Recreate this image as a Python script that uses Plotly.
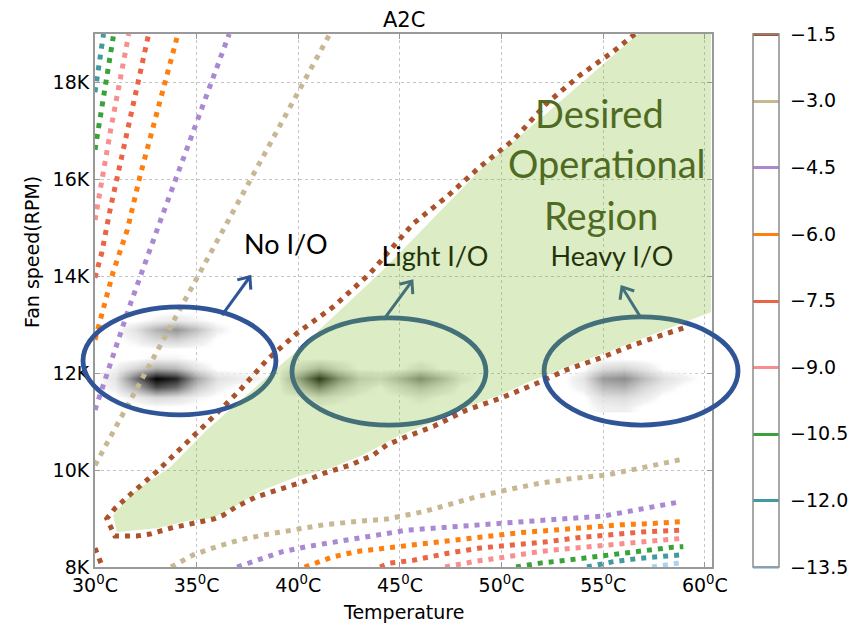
import math
import plotly.graph_objects as go

# ---------------- data ----------------
contour_levels = [-13.5, -12.0, -10.5, -9.0, -7.5, -6.0, -4.5, -3.0, -1.5]
contour_colors = ['#a9d3f0', '#409aa0', '#39a339', '#f98e8e', '#ea6445',
                  '#ff7f0e', '#aa88d2', '#c8b793', '#a9522b']

# level -1.5
l15_main_temp = [56.56, 55.5, 53.86, 52.22, 50.58, 48.94, 47.3, 45.66, 44.51, 43.53, 41.72, 39.92,
                 38.45, 37.13, 35.82, 35.0, 34.18, 33.04, 31.88, 30.98, 30.58, 30.74, 30.98, 32.05,
                 32.71, 33.69, 34.67, 35.82, 36.31, 36.97, 37.95, 38.94, 40.25, 41.23, 42.54, 43.69,
                 44.35, 45.33, 46.64, 48.28, 49.92, 51.56, 53.2, 54.84, 56.48, 58.12, 58.94]
l15_main_rpm = [19000, 18640, 18150, 17570, 16810, 16260, 15640, 15090, 14540, 14060, 13370, 12820,
                12270, 11650, 11100, 10760, 10450, 9970, 9550, 9210, 9000, 8830, 8640, 8640,
                8680, 8800, 8890, 8990, 9070, 9250, 9450, 9590, 9760, 9930, 10100, 10310,
                10520, 10690, 10900, 11240, 11480, 11760, 12070, 12310, 12580, 12820, 12930]
l15_small_temp = [30.0, 30.33, 30.37]
l15_small_rpm = [8390, 8040, 8000]
# level -3.0
l30_up_temp = [30.0, 35.0, 41.55]
l30_up_rpm = [10100, 13930, 19000]
l30_low_temp = [33.74, 34.84, 35.99, 37.13, 38.28, 39.59, 41.23, 42.87, 44.35, 46.15, 47.3, 48.78,
                50.25, 51.89, 53.53, 55.17, 56.81, 58.12, 58.86]
l30_low_rpm = [8000, 8250, 8420, 8560, 8660, 8760, 8870, 8940, 8990, 9140, 9280, 9450,
               9590, 9730, 9830, 9900, 10040, 10140, 10220]
# level -4.5
l45_up_temp = [30.0, 31.69, 33.16, 35.03, 36.6]
l45_up_rpm = [11240, 13370, 15080, 17230, 19000]
l45_low_temp = [36.99, 38.28, 39.26, 40.41, 41.56, 42.87, 44.18, 45.33, 46.97, 48.61, 50.25, 51.89,
                53.53, 55.0, 56.15, 57.3, 58.86]
l45_low_rpm = [8000, 8180, 8320, 8420, 8500, 8590, 8660, 8760, 8810, 8870, 8910, 8960,
               9000, 9050, 9140, 9230, 9350]
# level -6.0
l60_up_temp = [30.0, 30.41, 30.9, 31.59, 32.21, 33.2, 34.08]
l60_up_rpm = [12690, 13370, 14100, 14960, 16060, 17620, 19000]
l60_low_temp = [40.31, 41.72, 42.87, 44.35, 45.99, 47.63, 49.27, 50.91, 52.54, 54.19, 55.83, 57.46, 58.86]
l60_low_rpm = [8000, 8210, 8320, 8390, 8490, 8560, 8640, 8710, 8760, 8820, 8870, 8900, 8935]
# level -7.5
l75_up_temp = [30.0, 30.33, 30.74, 32.64]
l75_up_rpm = [13970, 14480, 15370, 19000]
l75_low_temp = [44.02, 44.51, 45.66, 47.3, 48.94, 50.58, 52.22, 53.86, 55.5, 57.14, 58.78]
l75_low_rpm = [8000, 8080, 8140, 8280, 8390, 8450, 8520, 8610, 8680, 8730, 8760]
# level -9.0
l90_up_temp = [30.0, 30.77, 31.66]
l90_up_rpm = [15160, 17020, 19000]
l90_low_temp = [47.22, 48.61, 50.25, 51.89, 53.53, 55.17, 57.14, 58.86]
l90_low_rpm = [8000, 8110, 8210, 8320, 8390, 8450, 8520, 8590]
# level -10.5
l105_up_temp = [30.0, 30.92]
l105_up_rpm = [16610, 19000]
l105_low_temp = [50.71, 51.89, 53.2, 54.84, 56.48, 58.45, 58.94]
l105_low_rpm = [8000, 8080, 8140, 8230, 8320, 8410, 8420]
# level -12.0
l120_up_temp = [30.0, 30.42]
l120_up_rpm = [17800, 19000]
l120_low_temp = [54.2, 55.5, 56.81, 58.78]
l120_low_rpm = [8000, 8110, 8180, 8250]
# level -13.5
l135_low_temp = [57.4, 58.86]
l135_low_rpm = [8000, 8090]

# density (gray) map: temperature grid, rpm grid, non-zero cells
heat_temps = [30, 31, 32, 33, 34, 35, 36, 37, 38, 39, 40, 41, 42, 43, 44, 45,
              46, 47, 48, 49, 50, 51, 52, 53, 54, 55, 56, 57, 58, 59, 60]
heat_rpm = [11300, 11500, 11700, 11900, 12100, 12300, 12500, 12700, 12900, 13100, 13300]
heat_cells = {
    11300: {55: 0.05, 56: 0.06},
    11500: {32: 0.06, 33: 0.15, 34: 0.12, 35: 0.04, 41: 0.12, 42: 0.05, 46: 0.06,
            55: 0.12, 56: 0.14, 57: 0.07},
    11700: {31: 0.06, 32: 0.35, 33: 0.72, 34: 0.6, 35: 0.22, 36: 0.06, 40: 0.2, 41: 0.55,
            42: 0.25, 43: 0.08, 45: 0.12, 46: 0.25, 47: 0.12, 54: 0.06, 55: 0.28, 56: 0.32,
            57: 0.16, 58: 0.06},
    11900: {31: 0.1, 32: 0.6, 33: 1.0, 34: 0.88, 35: 0.38, 36: 0.12, 37: 0.07, 38: 0.04,
            40: 0.4, 41: 0.95, 42: 0.5, 43: 0.18, 44: 0.12, 45: 0.3, 46: 0.52, 47: 0.3,
            48: 0.06, 54: 0.1, 55: 0.42, 56: 0.48, 57: 0.28, 58: 0.12, 59: 0.05},
    12100: {31: 0.04, 32: 0.18, 33: 0.35, 34: 0.3, 35: 0.1, 40: 0.1, 41: 0.3, 42: 0.12,
            46: 0.1, 55: 0.14, 56: 0.18, 57: 0.1},
    12300: {33: 0.04, 34: 0.04},
    12700: {32: 0.05, 33: 0.16, 34: 0.2, 35: 0.1},
    12900: {32: 0.12, 33: 0.32, 34: 0.45, 35: 0.26, 36: 0.06},
    13100: {33: 0.05, 34: 0.08, 35: 0.04},
}

# desired operational region polygon
region_temp = [56.71, 60.3, 60.3, 58.92, 56.46, 53.22, 51.25, 49.92, 48.3, 46.63, 45.0, 44.36,
               43.18, 41.56, 39.94, 38.26, 36.99, 35.8, 34.53, 33.05, 31.08, 30.89, 31.87,
               33.69, 35.51, 40.08, 44.17, 48.94, 52.23]
region_rpm = [19000, 19000, 13260, 13040, 12640, 12130, 11800, 11550, 11300, 10990, 10720, 10580,
              10310, 10040, 9860, 9590, 9280, 9010, 8950, 8800, 8720, 9070, 9530,
              10060, 10830, 12520, 14130, 16190, 17370]

# workload groups: ellipse extents, arrow start/tip, label position
group_names = ['No I/O', 'Light I/O', 'Heavy I/O']
ell_temp0 = [29.41, 39.69, 52.09]
ell_temp1 = [38.9, 49.23, 61.63]
ell_rpm0 = [11140, 10930, 10930]
ell_rpm1 = [13370, 13140, 13160]
arrow_temp0 = [36.25, 44.26, 56.86]
arrow_rpm0 = [13200, 13140, 13140]
arrow_temp1 = [37.62, 45.59, 55.92]
arrow_rpm1 = [13990, 13900, 13780]
label_temp = [39.39, 46.72, 55.43]
label_rpm = [14600, 14360, 14360]

x_ticks = [30, 35, 40, 45, 50, 55, 60]
x_ticktext = ['%d<sup>0</sup>C' % t for t in x_ticks]
y_ticks = [8000, 10000, 12000, 14000, 16000, 18000]
y_ticktext = ['8K', '10K', '12K', '14K', '16K', '18K']

# ---------------- figure ----------------
X0, X1 = 30, 60.35
Y0, Y1 = 8000, 19000
W, H = 849, 625
ML, MR, MT, MB = 95, 137, 34, 58
PW, PH = W - ML - MR, H - MT - MB

def xp(t):
    return (t - X0) / (X1 - X0)

def yp(r):
    return (r - Y0) / (Y1 - Y0)

color_of = dict(zip(contour_levels, contour_colors))
lines = [
    (-1.5, l15_main_temp, l15_main_rpm), (-1.5, l15_small_temp, l15_small_rpm),
    (-3.0, l30_up_temp, l30_up_rpm), (-3.0, l30_low_temp, l30_low_rpm),
    (-4.5, l45_up_temp, l45_up_rpm), (-4.5, l45_low_temp, l45_low_rpm),
    (-6.0, l60_up_temp, l60_up_rpm), (-6.0, l60_low_temp, l60_low_rpm),
    (-7.5, l75_up_temp, l75_up_rpm), (-7.5, l75_low_temp, l75_low_rpm),
    (-9.0, l90_up_temp, l90_up_rpm), (-9.0, l90_low_temp, l90_low_rpm),
    (-10.5, l105_up_temp, l105_up_rpm), (-10.5, l105_low_temp, l105_low_rpm),
    (-12.0, l120_up_temp, l120_up_rpm), (-12.0, l120_low_temp, l120_low_rpm),
    (-13.5, l135_low_temp, l135_low_rpm),
]

fig = go.Figure()
for lvl, tx, ry in lines:
    fig.add_trace(go.Scatter(x=tx, y=ry, mode='lines', showlegend=False, hoverinfo='skip',
                             line=dict(color=color_of[lvl], width=5, dash='5px,6px')))

z = [[heat_cells.get(r, {}).get(t, 0.0) for t in heat_temps] for r in heat_rpm]
fig.add_trace(go.Heatmap(x=heat_temps, y=heat_rpm, z=z, zmin=0, zmax=1, zsmooth='best',
                         showscale=False, hoverinfo='skip',
                         colorscale=[[0, 'rgba(255,255,255,0)'], [0.04, 'rgba(240,240,240,0.85)'],
                                     [1, 'rgba(0,0,0,1)']]))

fig.add_trace(go.Scatter(x=label_temp, y=label_rpm, text=group_names, mode='text',
                         showlegend=False, hoverinfo='skip', cliponaxis=False,
                         textfont=dict(family='Lato', size=27, color='black')))

# colorbar carrier (contour lines only, outside the visible range)
cb_scale = [[i / (len(contour_colors) - 1), c] for i, c in enumerate(contour_colors)]
fig.add_trace(go.Contour(
    x=[100, 101], y=[30000, 30001],
    z=[[contour_levels[0], contour_levels[-1]], [contour_levels[0], contour_levels[-1]]],
    autocontour=False,
    contours=dict(start=contour_levels[0], end=contour_levels[-1], size=1.5, coloring='lines'),
    line=dict(width=3, dash='solid'), colorscale=cb_scale, showscale=True, hoverinfo='skip',
    colorbar=dict(x=(753 - ML) / PW, xanchor='left', y=0.5, yanchor='middle', len=1,
                  lenmode='fraction', thickness=26, thicknessmode='pixels', xpad=0, ypad=0,
                  outlinecolor='#8c8c8c', outlinewidth=1.5, tickvals=contour_levels,
                  tickformat='.1f', ticks='outside', ticklen=7, tickcolor='rgba(0,0,0,0)',
                  tickfont=dict(family='DejaVu Sans', size=19, color='black'))))

shapes = []
BLUE = '#2f5597'
for i in range(len(group_names)):
    shapes.append(dict(type='circle', xref='paper', yref='paper', layer='above',
                       x0=xp(ell_temp0[i]), x1=xp(ell_temp1[i]),
                       y0=yp(ell_rpm0[i]), y1=yp(ell_rpm1[i]),
                       line=dict(color=BLUE, width=4.8)))
    sx, sy = xp(arrow_temp0[i]) * PW, yp(arrow_rpm0[i]) * PH
    tx, ty = xp(arrow_temp1[i]) * PW, yp(arrow_rpm1[i]) * PH
    shapes.append(dict(type='line', xref='paper', yref='paper', layer='above',
                       x0=sx / PW, y0=sy / PH, x1=tx / PW, y1=ty / PH,
                       line=dict(color=BLUE, width=3)))
    dx, dy = sx - tx, sy - ty
    n = math.hypot(dx, dy)
    dx, dy = dx / n, dy / n
    pts = []
    for sgn in (1, -1):
        a = math.radians(40) * sgn
        ax = dx * math.cos(a) - dy * math.sin(a)
        ay = dx * math.sin(a) + dy * math.cos(a)
        pts.append(((tx + 13 * ax) / PW, (ty + 13 * ay) / PH))
    path = 'M%.5f,%.5f L%.5f,%.5f L%.5f,%.5f' % (pts[0][0], pts[0][1], tx / PW, ty / PH,
                                                 pts[1][0], pts[1][1])
    shapes.append(dict(type='path', xref='paper', yref='paper', layer='above', path=path,
                       line=dict(color=BLUE, width=3)))

region_path = 'M' + ' L'.join('%.3f,%.1f' % (t, r) for t, r in zip(region_temp, region_rpm)) + ' Z'
shapes.append(dict(type='path', xref='x', yref='y', layer='above', path=region_path,
                   fillcolor='rgba(125,185,40,0.27)', line=dict(width=0)))

annotations = [
    dict(text='A2C', x=0.5, y=(MT - 20) / PH + 1, xref='paper', yref='paper', showarrow=False,
         font=dict(family='DejaVu Sans', size=21, color='black'), xanchor='center', yanchor='middle'),
    dict(text='Temperature', x=0.5, y=-(612 - MT - PH) / PH, xref='paper', yref='paper',
         showarrow=False, font=dict(family='DejaVu Sans', size=19, color='black'),
         xanchor='center', yanchor='middle'),
    dict(text='Fan speed(RPM)', x=(32 - ML) / PW, y=(MT + PH - 252) / PH, xref='paper',
         yref='paper', showarrow=False, textangle=-90,
         font=dict(family='DejaVu Sans', size=19, color='black'), xanchor='center',
         yanchor='middle'),
]
for txt, t, r in [('Desired', 54.84, 17370), ('Operational', 55.18, 16340), ('Region', 54.89, 15270)]:
    annotations.append(dict(text=txt, x=t, y=r, xref='x', yref='y', showarrow=False,
                            font=dict(family='Lato', size=38, color='#4f6b22'),
                            xanchor='center', yanchor='middle'))

axis_common = dict(showgrid=True, gridcolor='#c4c4c4', griddash='dot', gridwidth=1,
                   showline=True, linecolor='#999999', linewidth=2, mirror='ticks',
                   ticks='inside', ticklen=5, tickcolor='#999999', zeroline=False,
                   tickfont=dict(family='DejaVu Sans', size=19, color='black'))

fig.update_layout(
    width=W, height=H, margin=dict(l=ML, r=MR, t=MT, b=MB, autoexpand=False),
    plot_bgcolor='white', paper_bgcolor='white', showlegend=False,
    xaxis=dict(range=[X0, X1], tickvals=x_ticks, ticktext=x_ticktext, **axis_common),
    yaxis=dict(range=[Y0, Y1], tickvals=y_ticks, ticktext=y_ticktext, **axis_common),
    shapes=shapes, annotations=annotations,
)

fig.write_html('out.html')
